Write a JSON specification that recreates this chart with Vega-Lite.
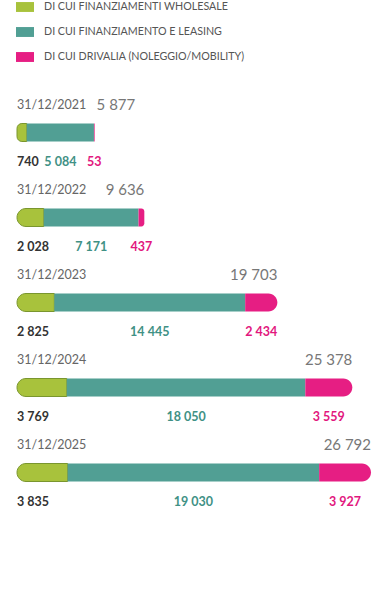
{
  "$schema": "https://vega.github.io/schema/vega-lite/v6.json",
  "width": 354,
  "height": 425,
  "autosize": {"type": "none"},
  "padding": {"left": 17, "top": 90, "right": 9, "bottom": 93},
  "background": "white",
  "config": {
    "view": {"stroke": null},
    "font": "Lato",
    "locale": {"number": {"decimal": ",", "thousands": " ", "grouping": [3], "currency": ["", " €"]}}
  },
  "datasets": {
    "parts": [
      {"date": "31/12/2021", "k": "wholesale", "cat": "DI CUI FINANZIAMENTI WHOLESALE", "value": 740},
      {"date": "31/12/2021", "k": "leasing", "cat": "DI CUI FINANZIAMENTO E LEASING", "value": 5084},
      {"date": "31/12/2021", "k": "drivalia", "cat": "DI CUI DRIVALIA (NOLEGGIO/MOBILITY)", "value": 53},
      {"date": "31/12/2022", "k": "wholesale", "cat": "DI CUI FINANZIAMENTI WHOLESALE", "value": 2028},
      {"date": "31/12/2022", "k": "leasing", "cat": "DI CUI FINANZIAMENTO E LEASING", "value": 7171},
      {"date": "31/12/2022", "k": "drivalia", "cat": "DI CUI DRIVALIA (NOLEGGIO/MOBILITY)", "value": 437},
      {"date": "31/12/2023", "k": "wholesale", "cat": "DI CUI FINANZIAMENTI WHOLESALE", "value": 2825},
      {"date": "31/12/2023", "k": "leasing", "cat": "DI CUI FINANZIAMENTO E LEASING", "value": 14445},
      {"date": "31/12/2023", "k": "drivalia", "cat": "DI CUI DRIVALIA (NOLEGGIO/MOBILITY)", "value": 2434},
      {"date": "31/12/2024", "k": "wholesale", "cat": "DI CUI FINANZIAMENTI WHOLESALE", "value": 3769},
      {"date": "31/12/2024", "k": "leasing", "cat": "DI CUI FINANZIAMENTO E LEASING", "value": 18050},
      {"date": "31/12/2024", "k": "drivalia", "cat": "DI CUI DRIVALIA (NOLEGGIO/MOBILITY)", "value": 3559},
      {"date": "31/12/2025", "k": "wholesale", "cat": "DI CUI FINANZIAMENTI WHOLESALE", "value": 3835},
      {"date": "31/12/2025", "k": "leasing", "cat": "DI CUI FINANZIAMENTO E LEASING", "value": 19030},
      {"date": "31/12/2025", "k": "drivalia", "cat": "DI CUI DRIVALIA (NOLEGGIO/MOBILITY)", "value": 3927}
    ],
    "totals": [
      {"date": "31/12/2021", "total": 5877},
      {"date": "31/12/2022", "total": 9636},
      {"date": "31/12/2023", "total": 19703},
      {"date": "31/12/2024", "total": 25378},
      {"date": "31/12/2025", "total": 26792}
    ]
  },
  "layer": [
    {
      "data": {"name": "parts"},
      "transform": [
        {"stack": "value", "groupby": ["date"], "sort": [{"field": "k", "order": "descending"}], "as": ["x0", "x1"]},
        {"filter": "datum.k === 'wholesale'"}
      ],
      "mark": {"type": "bar", "height": 18, "cornerRadiusTopLeft": 9, "cornerRadiusBottomLeft": 9, "stroke": "#7a962e", "strokeWidth": 1},
      "encoding": {
        "x": {"field": "x0", "type": "quantitative", "scale": {"domain": [0, 26792], "nice": false, "zero": true}, "axis": null},
        "x2": {"field": "x1"},
        "y": {"field": "date", "type": "ordinal", "scale": {"paddingInner": 0, "paddingOuter": 0}, "axis": null},
        "color": {
          "field": "cat", "type": "nominal",
          "scale": {
            "domain": ["DI CUI FINANZIAMENTI WHOLESALE", "DI CUI FINANZIAMENTO E LEASING", "DI CUI DRIVALIA (NOLEGGIO/MOBILITY)"],
            "range": ["#a8c23c", "#519f94", "#e61e83"]
          },
          "legend": {
            "title": null, "orient": "none", "legendX": -1, "legendY": -92,
            "symbolType": "M-1,-0.55H1V0.55H-1Z", "symbolSize": 324, "symbolStrokeWidth": 0,
            "labelFont": "Lato", "labelFontSize": 10.7, "labelColor": "#555", "labelLimit": 400,
            "rowPadding": 11, "labelOffset": 10
          }
        }
      }
    },
    {
      "data": {"name": "parts"},
      "transform": [
        {"stack": "value", "groupby": ["date"], "sort": [{"field": "k", "order": "descending"}], "as": ["x0", "x1"]},
        {"filter": "datum.k === 'leasing'"}
      ],
      "mark": {"type": "bar", "height": 18},
      "encoding": {
        "x": {"field": "x0", "type": "quantitative"},
        "x2": {"field": "x1"},
        "y": {"field": "date", "type": "ordinal"},
        "color": {"field": "cat", "type": "nominal"}
      }
    },
    {
      "data": {"name": "parts"},
      "transform": [
        {"stack": "value", "groupby": ["date"], "sort": [{"field": "k", "order": "descending"}], "as": ["x0", "x1"]},
        {"filter": "datum.k === 'drivalia'"}
      ],
      "mark": {"type": "bar", "height": 18, "cornerRadiusTopRight": 9, "cornerRadiusBottomRight": 9},
      "encoding": {
        "x": {"field": "x0", "type": "quantitative"},
        "x2": {"field": "x1"},
        "y": {"field": "date", "type": "ordinal"},
        "color": {"field": "cat", "type": "nominal"}
      }
    },
    {
      "data": {"name": "totals"},
      "mark": {"type": "text", "align": "left", "baseline": "middle", "dy": -27.5, "fontSize": 12.5, "color": "#666"},
      "encoding": {
        "x": {"datum": 0, "type": "quantitative"},
        "y": {"field": "date", "type": "ordinal"},
        "text": {"field": "date"}
      }
    },
    {
      "data": {"name": "totals"},
      "transform": [{"calculate": "max(datum.total, 8950)", "as": "tx"}],
      "mark": {"type": "text", "align": "right", "baseline": "middle", "dy": -28, "fontSize": 15, "color": "#777"},
      "encoding": {
        "x": {"field": "tx", "type": "quantitative"},
        "y": {"field": "date", "type": "ordinal"},
        "text": {"field": "total", "type": "quantitative", "format": ","}
      }
    },
    {
      "data": {"name": "parts"},
      "transform": [
        {"stack": "value", "groupby": ["date"], "sort": [{"field": "k", "order": "descending"}], "as": ["x0", "x1"]},
        {"filter": "datum.k === 'wholesale'"}
      ],
      "mark": {"type": "text", "align": "left", "baseline": "middle", "dy": 29.5, "fontSize": 12.5, "fontWeight": "bold", "color": "#333"},
      "encoding": {
        "x": {"field": "x0", "type": "quantitative"},
        "y": {"field": "date", "type": "ordinal"},
        "text": {"field": "value", "type": "quantitative", "format": ","}
      }
    },
    {
      "data": {"name": "parts"},
      "transform": [
        {"stack": "value", "groupby": ["date"], "sort": [{"field": "k", "order": "descending"}], "as": ["x0", "x1"]},
        {"filter": "datum.k === 'leasing'"},
        {"calculate": "(datum.x0 + datum.x1) / 2", "as": "mid"}
      ],
      "mark": {"type": "text", "align": "center", "baseline": "middle", "dy": 29.5, "fontSize": 12.5, "fontWeight": "bold", "color": "#3f9185"},
      "encoding": {
        "x": {"field": "mid", "type": "quantitative"},
        "y": {"field": "date", "type": "ordinal"},
        "text": {"field": "value", "type": "quantitative", "format": ","}
      }
    },
    {
      "data": {"name": "parts"},
      "transform": [
        {"stack": "value", "groupby": ["date"], "sort": [{"field": "k", "order": "descending"}], "as": ["x0", "x1"]},
        {"filter": "datum.k === 'drivalia'"},
        {"calculate": "(datum.x0 + datum.x1) / 2", "as": "mid"}
      ],
      "mark": {"type": "text", "align": "center", "baseline": "middle", "dy": 29.5, "fontSize": 12.5, "fontWeight": "bold", "color": "#e2177e"},
      "encoding": {
        "x": {"field": "mid", "type": "quantitative"},
        "y": {"field": "date", "type": "ordinal"},
        "text": {"field": "value", "type": "quantitative", "format": ","}
      }
    }
  ]
}
